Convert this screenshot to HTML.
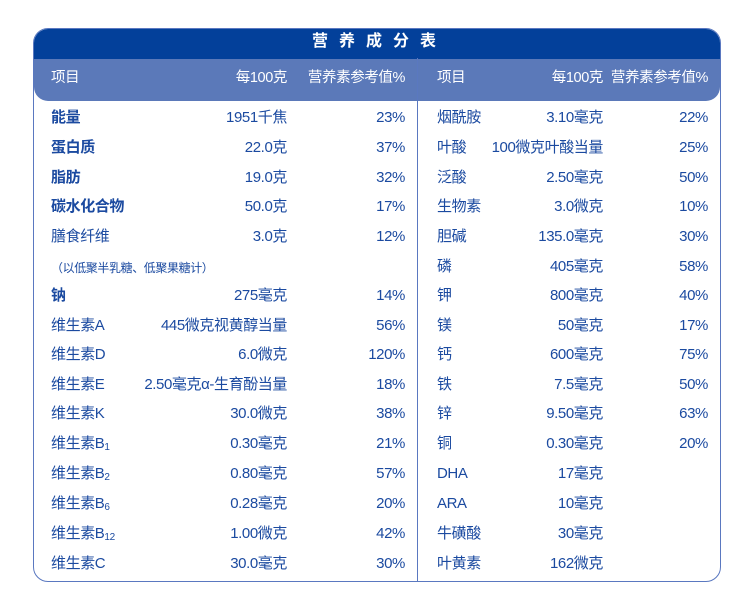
<!DOCTYPE html><html><head><meta charset="utf-8"><style>
body{margin:0;width:750px;height:606px;background:#fff;position:relative;font-family:"Liberation Sans","Noto Sans CJK SC",sans-serif;color:#1b4aa0;overflow:hidden}
.box{position:absolute;left:33px;top:28px;width:688px;height:554px;border:1px solid #5a78c0;border-radius:15px;box-sizing:border-box;overflow:hidden}
.dark{position:absolute;left:0;top:0;width:100%;height:30px;background:#03409a}
.light{position:absolute;left:0;top:30px;width:100%;height:42px;background:#5b79b9;border-radius:0 0 14px 14px}
.vl{position:absolute;left:417px;top:58px;width:1px;height:524px;background:#5a78c0}
.t{position:absolute;white-space:nowrap;font-size:15px;line-height:20px;letter-spacing:-0.4px}
.r{text-align:right}
.w{color:#fff;font-size:14.5px}
b{font-weight:bold}
sub{font-size:10px;vertical-align:-2px}
</style></head><body>
<div class="box"><div class="dark"></div><div class="light"></div></div>
<div class="vl"></div>
<div class="t w" style="left:312px;top:32px;font-weight:bold;font-size:16px;letter-spacing:11px">营养成分表</div>
<div class="t w" style="left:51px;top:68px">项目</div>
<div class="t w r" style="right:463px;top:68px">每100克</div>
<div class="t w r" style="right:345px;top:68px">营养素参考值%</div>
<div class="t w" style="left:437px;top:68px">项目</div>
<div class="t w r" style="right:147px;top:68px">每100克</div>
<div class="t w r" style="right:42px;top:68px">营养素参考值%</div>
<div id="rows"></div>
<script>
var L=[["<b>能量</b>","1951千焦","23%",118],["<b>蛋白质</b>","22.0克","37%",148],["<b>脂肪</b>","19.0克","32%",178],["<b>碳水化合物</b>","50.0克","17%",207],["膳食纤维","3.0克","12%",237],["<b>钠</b>","275毫克","14%",296],["维生素A","445微克视黄醇当量","56%",326],["维生素D","6.0微克","120%",355],["维生素E","2.50毫克α-生育酚当量","18%",385],["维生素K","30.0微克","38%",414],["维生素B<sub>1</sub>","0.30毫克","21%",444],["维生素B<sub>2</sub>","0.80毫克","57%",474],["维生素B<sub>6</sub>","0.28毫克","20%",504],["维生素B<sub>12</sub>","1.00微克","42%",534],["维生素C","30.0毫克","30%",564]];
var R=[["烟酰胺","3.10毫克","22%"],["叶酸","100微克叶酸当量","25%"],["泛酸","2.50毫克","50%"],["生物素","3.0微克","10%"],["胆碱","135.0毫克","30%"],["磷","405毫克","58%"],["钾","800毫克","40%"],["镁","50毫克","17%"],["钙","600毫克","75%"],["铁","7.5毫克","50%"],["锌","9.50毫克","63%"],["铜","0.30毫克","20%"],["DHA","17毫克",""],["ARA","10毫克",""],["牛磺酸","30毫克",""],["叶黄素","162微克",""]];
var Y=[118,148,178,207,237,267,296,326,355,385,414,444,474,504,534,564];
var h="";
L.forEach(function(r){var y=r[3]-10;h+='<div class="t" style="left:51px;top:'+y+'px">'+r[0]+'</div><div class="t r" style="right:463px;top:'+y+'px">'+r[1]+'</div><div class="t r" style="right:345px;top:'+y+'px">'+r[2]+'</div>';});
h+='<div class="t" style="left:51px;top:258px;font-size:12px">（以低聚半乳糖、低聚果糖计）</div>';
R.forEach(function(r,i){var y=Y[i]-10;h+='<div class="t" style="left:437px;top:'+y+'px">'+r[0]+'</div><div class="t r" style="right:147px;top:'+y+'px">'+r[1]+'</div><div class="t r" style="right:42px;top:'+y+'px">'+r[2]+'</div>';});
document.getElementById("rows").innerHTML=h;
</script>
</body></html>
